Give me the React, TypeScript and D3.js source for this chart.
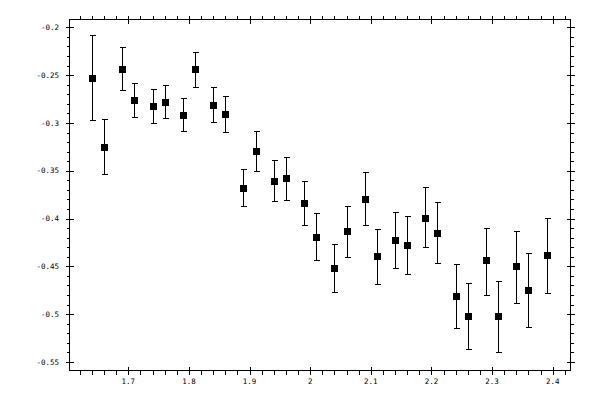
import * as React from 'react';
import * as d3 from 'd3';

const xs = [1.64, 1.66, 1.69, 1.71, 1.74, 1.76, 1.79, 1.81, 1.84, 1.86, 1.89, 1.91, 1.94, 1.96,
  1.99, 2.01, 2.04, 2.06, 2.09, 2.11, 2.14, 2.16, 2.19, 2.21, 2.24, 2.26, 2.29, 2.31, 2.34, 2.36, 2.39];
const ys = [-0.2531, -0.325, -0.2438, -0.276, -0.2823, -0.2778, -0.2917, -0.2438, -0.2813, -0.2906,
  -0.3677, -0.3292, -0.3604, -0.3577, -0.3833, -0.4188, -0.4521, -0.4135, -0.3792, -0.4396,
  -0.4229, -0.4281, -0.399, -0.4146, -0.4813, -0.5021, -0.4438, -0.5021, -0.45, -0.475, -0.4385];
const errTop = [-0.208, -0.2955, -0.2208, -0.2583, -0.2646, -0.2608, -0.2744, -0.226, -0.2625, -0.2723,
  -0.3483, -0.3083, -0.3385, -0.3354, -0.3604, -0.3942, -0.4271, -0.3865, -0.351, -0.4104,
  -0.3927, -0.3969, -0.3667, -0.3823, -0.4479, -0.4677, -0.4094, -0.4656, -0.4125, -0.4365, -0.399];
const errBottom = [-0.2966, -0.3531, -0.2656, -0.2938, -0.3, -0.2945, -0.3083, -0.2625, -0.299, -0.3094,
  -0.3869, -0.35, -0.382, -0.3802, -0.407, -0.4438, -0.4771, -0.4406, -0.4063, -0.4688,
  -0.4521, -0.4583, -0.4302, -0.4469, -0.5146, -0.5365, -0.4796, -0.5396, -0.4885, -0.5135, -0.4781];

const xTicks = [1.7, 1.8, 1.9, 2.0, 2.1, 2.2, 2.3, 2.4];
const yTicks = [-0.55, -0.5, -0.45, -0.4, -0.35, -0.3, -0.25, -0.2];

const width = 600;
const height = 400;
const left = 69.5, right = 570.5, top = 19.5, bottom = 370.5;

export default function App() {
  const x = d3.scaleLinear().domain([1.603, 2.4294]).range([left, right]);
  const y = d3.scaleLinear().domain([-0.5589, -0.1918]).range([bottom, top]);

  const xMinor = d3.range(1.62, 2.43, 0.02).filter(v => !xTicks.some(t => Math.abs(t - v) < 1e-6));
  const yMinor = d3.range(-0.55, -0.195, 0.01).filter(v => !yTicks.some(t => Math.abs(t - v) < 1e-6));

  const font = { fontFamily: '"DejaVu Sans Mono", monospace', fontSize: 7.5 };
  const sq = 7;
  const cap = 3;

  return (
    <svg width={width} height={height} style={{ position: 'absolute', left: 0, top: 0, background: '#fff' }}>
      <rect x={left} y={top} width={right - left} height={bottom - top} fill="none" stroke="#000" strokeWidth={1} />
      <g stroke="#000" strokeWidth={1} shapeRendering="crispEdges">
        {xTicks.map(t => (
          <g key={'xt' + t}>
            <line x1={Math.round(x(t)) + 0.5} x2={Math.round(x(t)) + 0.5} y1={bottom - 4} y2={bottom + 4} />
            <line x1={Math.round(x(t)) + 0.5} x2={Math.round(x(t)) + 0.5} y1={top - 4} y2={top + 4} />
          </g>
        ))}
        {xMinor.map(t => (
          <g key={'xm' + t}>
            <line x1={Math.round(x(t)) + 0.5} x2={Math.round(x(t)) + 0.5} y1={bottom} y2={bottom + 4} />
            <line x1={Math.round(x(t)) + 0.5} x2={Math.round(x(t)) + 0.5} y1={top - 4} y2={top} />
          </g>
        ))}
        {yTicks.map(t => (
          <g key={'yt' + t}>
            <line y1={Math.round(y(t)) + 0.5} y2={Math.round(y(t)) + 0.5} x1={left - 4} x2={left + 4} />
            <line y1={Math.round(y(t)) + 0.5} y2={Math.round(y(t)) + 0.5} x1={right - 4} x2={right + 4} />
          </g>
        ))}
        {yMinor.map(t => (
          <g key={'ym' + t}>
            <line y1={Math.round(y(t)) + 0.5} y2={Math.round(y(t)) + 0.5} x1={left - 3} x2={left} />
            <line y1={Math.round(y(t)) + 0.5} y2={Math.round(y(t)) + 0.5} x1={right} x2={right + 3} />
          </g>
        ))}
      </g>
      <g style={font} fill="#000">
        {xTicks.map(t => (
          <text key={'xl' + t} x={x(t)} y={bottom + 13} textAnchor="middle">{String(t)}</text>
        ))}
        {yTicks.map(t => (
          <text key={'yl' + t} x={left - 10.5} y={y(t)} dy="0.35em" textAnchor="end">{String(t)}</text>
        ))}
      </g>
      <g stroke="#000" strokeWidth={1} shapeRendering="crispEdges">
        {xs.map((v, i) => {
          const cx = Math.round(x(v)) + 0.5;
          return (
            <g key={'e' + i}>
              <line x1={cx} x2={cx} y1={y(errTop[i])} y2={y(errBottom[i])} />
              <line x1={cx - cap} x2={cx + cap} y1={Math.round(y(errTop[i])) + 0.5} y2={Math.round(y(errTop[i])) + 0.5} />
              <line x1={cx - cap} x2={cx + cap} y1={Math.round(y(errBottom[i])) + 0.5} y2={Math.round(y(errBottom[i])) + 0.5} />
            </g>
          );
        })}
      </g>
      <g fill="#000">
        {xs.map((v, i) => (
          <rect key={'p' + i} x={Math.round(x(v)) + 0.5 - sq / 2} y={Math.round(y(ys[i])) + 0.5 - sq / 2} width={sq} height={sq} />
        ))}
      </g>
    </svg>
  );
}
